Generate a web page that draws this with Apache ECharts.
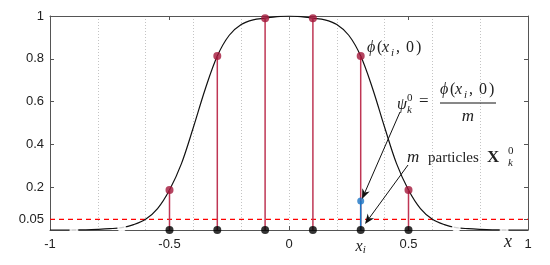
<!DOCTYPE html>
<html><head><meta charset="utf-8">
<script src="https://cdn.jsdelivr.net/npm/echarts@6/dist/echarts.min.js"></script>
<style>html,body{margin:0;padding:0;background:#fff}#c{width:550px;height:265px}</style>
</head><body><div id="c"></div>
<script>
// ---- data ----
const curveX = [-1,-0.95,-0.9,-0.85,-0.8,-0.75,-0.7,-0.65,-0.6,-0.55,-0.5,-0.45,-0.4,-0.35,-0.3,-0.25,-0.2,-0.15,-0.1,-0.05,0,
                0.05,0.1,0.15,0.2,0.25,0.3,0.35,0.4,0.45,0.5,0.55,0.6,0.65,0.7,0.75,0.8,0.85,0.9,0.95,1];
const curveY = [0,0,0.0003,0.001,0.003,0.006,0.011,0.025,0.05,0.1,0.187,0.31,0.48,0.66,0.813,0.91,0.96,0.982,0.99,0.997,1,
                0.997,0.99,0.982,0.96,0.91,0.813,0.66,0.48,0.31,0.187,0.1,0.05,0.025,0.011,0.006,0.003,0.001,0.0003,0,0];
const sampleX = [-0.5,-0.3,-0.1,0.1,0.3,0.5];
const sampleY = [0.187,0.813,0.99,0.99,0.813,0.187];
const ghostX = [-0.9,-0.7,0.7,0.9];
const ghostY = [0,0.011,0.011,0];
const particleX = [0.3];
const particleY = [0.135];
const threshold = 0.05;
const yTickValues = [0,0.05,0.2,0.4,0.6,0.8,1];
const xTickValues = [-1,-0.5,0,0.5,1];
const xLabelValues = [-1,-0.5,0,0.3,0.5,1];
const xiLabelValue = 0.3;
const gridStep = 0.2;

// ---- styles ----
const SERIF = '"Liberation Serif","DejaVu Serif",serif';
const SANS = '"Liberation Sans",Arial,sans-serif';
const TXT = '#222';
const AX = '#555';
const RED = '#a3173a';
const STEM = '#bf3654';
const BLUE = '#1a74c4';

const chart = echarts.init(document.getElementById('c'), null, {renderer:'canvas'});

function stemSeries(xs, ys0, ys1, color, z){
  return {
    type:'custom', z:z, clip:false, silent:true, xAxisIndex:0, yAxisIndex:0,
    renderItem:(p, api)=>{
      const a = api.coord([api.value(0), api.value(1)]);
      const b = api.coord([api.value(0), api.value(2)]);
      return {type:'line', shape:{x1:a[0],y1:a[1],x2:b[0],y2:b[1]}, style:{stroke:color, lineWidth:1.5}};
    },
    data: xs.map((x,i)=>[x, ys0[i], ys1[i]])
  };
}

function text(x, y, str, opt){
  return {type:'text', x:x, y:y, z:50, style:Object.assign({
    text:str, fill:TXT, fontFamily:SERIF, fontSize:16, fontStyle:'italic', align:'left', verticalAlign:'middle'
  }, opt||{})};
}
const UP = {fontStyle:'normal'};
function phiExpr(ox, oy){
  return [
    text(ox, oy, 'ϕ'),
    text(ox+10, oy, '(', UP),
    text(ox+15, oy, 'x'),
    text(ox+24, oy+5, 'i', {fontSize:11}),
    text(ox+29, oy, ',', UP),
    text(ox+39, oy, '0', UP),
    text(ox+49, oy, ')', UP)
  ];
}
function arrow(x1,y1,x2,y2){
  const dx=x2-x1, dy=y2-y1, L=Math.hypot(dx,dy), ux=dx/L, uy=dy/L, px=-uy, py=ux;
  const len=10, w=4, back=7;
  const bx=x2-ux*len, by=y2-uy*len;
  const nx=x2-ux*back, ny=y2-uy*back;
  return [
    {type:'line', z:50, shape:{x1:x1,y1:y1,x2:nx,y2:ny}, style:{stroke:'#111', lineWidth:1}},
    {type:'polygon', z:50, shape:{points:[[x2,y2],[bx+px*w,by+py*w],[nx,ny],[bx-px*w,by-py*w]]}, style:{fill:'#111'}}
  ];
}

const graphics = [].concat(
  phiExpr(367, 48),
  [
    text(397, 105, 'ψ'),
    text(407, 110, 'k', {fontSize:11}),
    text(407, 98, '0', {fontSize:11, fontStyle:'normal'}),
    text(419, 102, '=', {fontStyle:'normal', fontSize:17})
  ],
  phiExpr(440, 90),
  [
    {type:'line', z:50, shape:{x1:440,y1:103,x2:496,y2:103}, style:{stroke:'#111', lineWidth:1}},
    text(468, 117, 'm', {align:'center', fontSize:17}),
    text(407, 158, 'm', {fontSize:17}),
    text(428, 158, 'particles', {fontStyle:'normal', fontSize:15}),
    text(487, 158, 'X', {fontStyle:'normal', fontWeight:'bold', fontSize:17}),
    text(508, 163, 'k', {fontSize:11}),
    text(508, 151, '0', {fontSize:11, fontStyle:'normal'}),
    text(508, 242, 'x', {align:'center', fontSize:18})
  ],
  arrow(400,112,362,199), arrow(408,165,365,224)
);

const option = {
  animation:false,
  backgroundColor:'#fff',
  grid:{left:50, right:22, top:16, bottom:35, containLabel:false},
  xAxis:[{
    type:'value', min:-1, max:1, interval:0.5,
    axisLine:{show:true, onZero:false, lineStyle:{color:AX, width:1}},
    axisTick:{show:true, inside:true, length:4, customValues:xTickValues, lineStyle:{color:AX}},
    axisLabel:{customValues:xLabelValues, margin:8, color:TXT, fontFamily:SANS, fontSize:13,
      formatter:v=> Math.abs(v-xiLabelValue)<1e-9 ? '{m|x}{s|i}' : String(v),
      rich:{m:{fontFamily:SERIF, fontStyle:'italic', fontSize:16, color:TXT}, s:{fontFamily:SERIF, fontStyle:'italic', fontSize:11, color:TXT, padding:[7,0,0,0]}}},
    splitLine:{show:false}
  },{
    type:'value', min:-1, max:1, position:'top',
    axisLine:{show:true, onZero:false, lineStyle:{color:AX, width:1}},
    axisTick:{show:true, inside:true, length:4, customValues:xTickValues, lineStyle:{color:AX}},
    axisLabel:{show:false}, splitLine:{show:false}
  },{
    type:'value', min:-1, max:1, interval:gridStep, position:'bottom',
    axisLine:{show:false}, axisTick:{show:false}, axisLabel:{show:false},
    splitLine:{show:true, lineStyle:{color:'#c4c4c4', type:[1,2], width:1}}
  }],
  yAxis:[{
    type:'value', min:0, max:1, interval:0.05,
    axisLine:{show:true, onZero:false, lineStyle:{color:AX, width:1}},
    axisTick:{show:true, inside:true, length:4, customValues:yTickValues, lineStyle:{color:AX}},
    axisLabel:{margin:6, color:TXT, fontFamily:SANS, fontSize:13, hideOverlap:false,
      formatter:v=>{ const k = yTickValues.find(t=>Math.abs(t-v)<1e-6); return k===undefined ? '' : String(k); }},
    splitLine:{show:false}
  },{
    type:'value', min:0, max:1, position:'right',
    axisLine:{show:true, onZero:false, lineStyle:{color:AX, width:1}},
    axisTick:{show:true, inside:true, length:4, customValues:yTickValues, lineStyle:{color:AX}},
    axisLabel:{show:false}, splitLine:{show:false}
  }],
  series:[
    {type:'line', z:2, data:[[-1,threshold],[1,threshold]], showSymbol:false, symbol:'none', silent:true,
     lineStyle:{color:'#ff0000', type:[5,4], width:1.2}},
    {type:'line', z:3, data:curveX.map((x,i)=>[x,curveY[i]]), smooth:0.35, showSymbol:false, symbol:'none',
     lineStyle:{color:'#111', width:1.2}, silent:true},
    stemSeries(sampleX, sampleX.map(()=>0), sampleY, STEM, 4),
    stemSeries(particleX, [0], particleY, BLUE, 5),
    {type:'scatter', z:6, clip:false, symbol:'circle', symbolSize:8, itemStyle:{color:RED}, data:sampleX.map((x,i)=>[x,sampleY[i]]), silent:true},
    {type:'scatter', z:6, clip:false, symbol:'circle', symbolSize:7, itemStyle:{color:BLUE}, data:particleX.map((x,i)=>[x,particleY[i]]), silent:true},
    {type:'scatter', z:7, clip:false, symbol:'circle', symbolSize:8, itemStyle:{color:'#000'}, data:sampleX.map(x=>[x,0]), silent:true},
    {type:'scatter', z:7, clip:false, symbol:'emptyCircle', symbolSize:7, itemStyle:{color:'#fff', borderColor:'#111', borderWidth:1}, data:ghostX.map((x,i)=>[x,ghostY[i]]), silent:true}
  ],
  graphic: graphics
};
chart.setOption(option);
</script>
</body></html>
